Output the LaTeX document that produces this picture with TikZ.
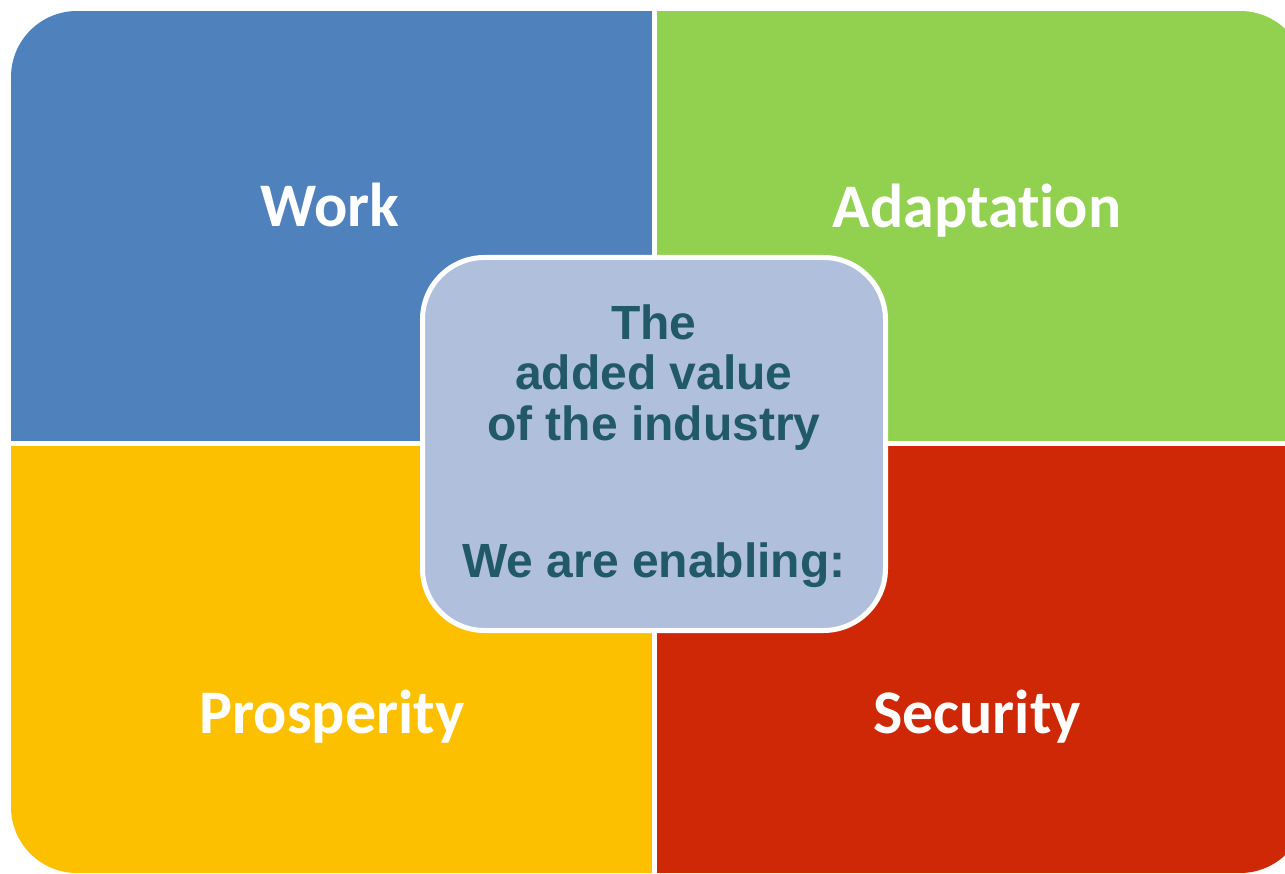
\documentclass[tikz,border=0pt]{standalone}
\usepackage{fontspec}
\newfontfamily\labelfont[Ligatures={NoCommon}]{Carlito}
\newfontfamily\corefont{Liberation Sans}
\definecolor{workblue}{HTML}{4F81BD}
\definecolor{adaptgreen}{HTML}{92D050}
\definecolor{prospyellow}{HTML}{FCC000}
\definecolor{securred}{HTML}{CF2806}
\definecolor{corefill}{HTML}{B0C0DC}
\definecolor{coretext}{HTML}{215968}
\begin{document}
\begin{tikzpicture}[x=1pt,y=-1pt,
  quadlabel/.style={text=white,font=\labelfont\bfseries\fontsize{62}{64}\selectfont,anchor=base,inner sep=0pt},
  coreline/.style={text=coretext,font=\corefont\bfseries\fontsize{48}{50}\selectfont,anchor=base,inner sep=0pt},
  corebox/.style={draw=white,line width=5pt,fill=corefill,rounded corners=62pt,
    minimum width=463pt,minimum height=373pt,inner sep=0pt}]
  \useasboundingbox (0,0) rectangle (1285,874);
  \begin{scope}
    \clip (0,0) rectangle (1285,874);
    \clip[rounded corners=66pt] (11,11) rectangle (1306,873);
    % four quadrants separated by thin white gaps
    \fill[workblue]    (11,11)   rectangle (652,441);
    \fill[adaptgreen]  (657,11)  rectangle (1306,441);
    \fill[prospyellow] (11,446)  rectangle (652,873);
    \fill[securred]    (657,446) rectangle (1306,873);
  \end{scope}
  \node[quadlabel] (work)  at (330,227) {Work};
  \node[quadlabel] (adapt) at (977,228) {Adaptation};
  \node[quadlabel] (prosp) at (332,733) {Prosperity};
  \node[quadlabel] (secur) at (977,733) {Security};
  % central box
  \node[corebox] (core) at (654,444) {};
  \node[coreline] (l1) at (654,340) {The};
  \node[coreline] (l2) at (654,390) {added value};
  \node[coreline] (l3) at (654,440) {of the industry};
  \node[coreline] (l4) at (654,577) {We are enabling:};
\end{tikzpicture}
\end{document}
